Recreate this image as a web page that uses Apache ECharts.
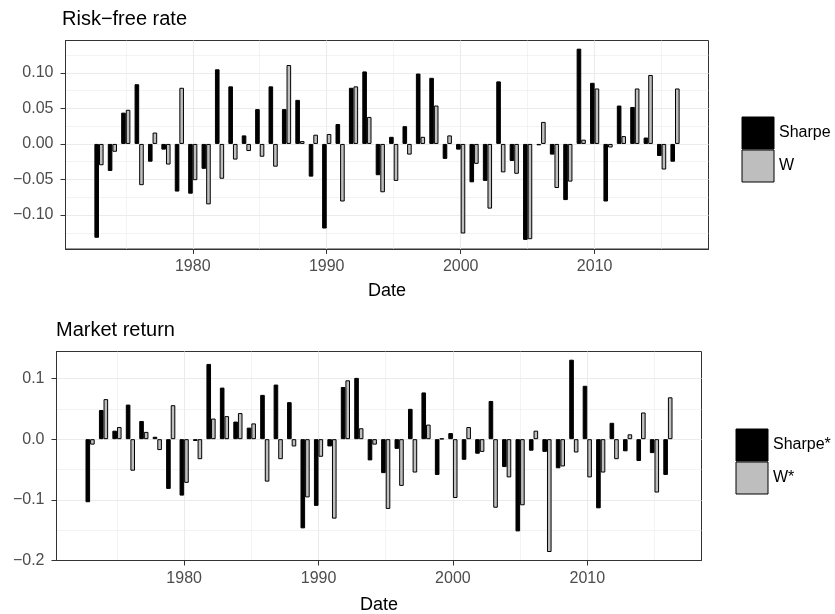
<!DOCTYPE html>
<html>
<head>
<meta charset="utf-8">
<script src="https://cdn.jsdelivr.net/npm/echarts@6/dist/echarts.min.js"></script>
<style>
  html, body { margin: 0; padding: 0; background: #fff; }
  #chart { width: 835px; height: 614px; }
</style>
</head>
<body>
<div id="chart"></div>
<script>
// Yearly observations, 1973-2016
const years = [1973, 1974, 1975, 1976, 1977, 1978, 1979, 1980, 1981, 1982,
               1983, 1984, 1985, 1986, 1987, 1988, 1989, 1990, 1991, 1992,
               1993, 1994, 1995, 1996, 1997, 1998, 1999, 2000, 2001, 2002,
               2003, 2004, 2005, 2006, 2007, 2008, 2009, 2010, 2011, 2012,
               2013, 2014, 2015, 2016];

// Risk-free rate panel
const rfSharpe = [-0.132, -0.038, 0.044, 0.084, -0.025, -0.008, -0.067, -0.070, -0.035, 0.105,
                  0.081, 0.012, 0.049, 0.081, 0.049, 0.062, -0.046, -0.119, 0.028, 0.079,
                  0.102, -0.044, 0.010, 0.025, 0.099, 0.093, -0.021, -0.008, -0.054, -0.052,
                  0.088, -0.024, -0.135, -0.002, -0.015, -0.079, 0.134, 0.086, -0.081, 0.054,
                  0.052, 0.009, -0.017, -0.025];
const rfW = [-0.030, -0.011, 0.048, -0.058, 0.016, -0.029, 0.079, -0.051, -0.085, -0.049,
             -0.022, -0.010, -0.018, -0.032, 0.111, 0.004, 0.013, 0.014, -0.081, 0.081,
             0.038, -0.068, -0.052, -0.015, 0.010, 0.054, 0.012, -0.126, -0.028, -0.091,
             -0.040, -0.042, -0.134, 0.031, -0.062, -0.053, 0.006, 0.078, -0.005, 0.011,
             0.078, 0.097, -0.036, 0.078];

// Market return panel
const mktSharpe = [-0.104, 0.048, 0.014, 0.057, 0.030, 0.004, -0.082, -0.093, -0.003, 0.124,
                   0.085, 0.029, 0.019, 0.073, 0.090, 0.061, -0.147, -0.110, -0.012, 0.086,
                   0.101, -0.035, -0.056, -0.016, 0.050, 0.077, -0.059, 0.010, -0.034, -0.024,
                   0.063, -0.046, -0.152, -0.019, -0.021, -0.048, 0.131, 0.088, -0.114, 0.027,
                   -0.020, -0.036, -0.023, -0.059];
const mktW = [-0.009, 0.066, 0.020, -0.052, 0.012, -0.018, 0.056, -0.072, -0.033, 0.034,
              0.038, 0.043, 0.026, -0.070, -0.033, -0.012, -0.096, -0.029, -0.131, 0.097,
              0.018, -0.009, -0.115, -0.077, -0.055, 0.024, 0.001, -0.097, 0.020, -0.021,
              -0.113, -0.063, -0.109, 0.014, -0.186, -0.045, -0.022, -0.063, -0.055, -0.033,
              0.008, 0.044, -0.088, 0.069];

// Axis breaks
const xMajorTicks = [1980, 1990, 2000, 2010];
const xMinorTicks = [1975, 1985, 1995, 2005, 2015];
const rfMajorTicks = [-0.10, -0.05, 0, 0.05, 0.10];
const rfMinorTicks = [-0.125, -0.075, -0.025, 0.025, 0.075, 0.125];
const mktMajorTicks = [-0.2, -0.1, 0, 0.1];
const mktMinorTicks = [-0.15, -0.05, 0.05];

const FONT = "'Liberation Sans', Arial, Helvetica, sans-serif";
const GRID_COLOR = '#ebebeb';
const INK = '#333333';

const pairs = vals => years.map((y, i) => [y, vals[i]]);
const signed = digits => v => (v < 0 ? '\u2212' : '') + Math.abs(v).toFixed(digits);

function mainX(gridIndex, nameGap) {
  return {
    type: 'value', gridIndex, min: 1970.5, max: 2018.5,
    name: 'Date', nameLocation: 'middle', nameGap,
    nameTextStyle: { fontFamily: FONT, fontSize: 18, color: '#000' },
    axisLine: { show: true, onZero: false, lineStyle: { color: INK, width: 1 } },
    axisTick: { show: true, length: 5, customValues: xMajorTicks, lineStyle: { color: INK, width: 1 } },
    axisLabel: { customValues: xMajorTicks, margin: 10, fontFamily: FONT, fontSize: 16, color: '#4d4d4d', formatter: v => String(v) },
    splitLine: { show: true, lineStyle: { color: GRID_COLOR, width: 1.1 } }
  };
}
function minorX(gridIndex) {
  return {
    type: 'value', gridIndex, min: 1970.5, max: 2018.5,
    axisLine: { show: false, onZero: false },
    axisTick: { show: false, customValues: xMinorTicks },
    axisLabel: { show: false, customValues: xMinorTicks },
    splitLine: { show: true, lineStyle: { color: GRID_COLOR, width: 0.6 } }
  };
}
function mainY(gridIndex, min, max, ticks, digits) {
  return {
    type: 'value', gridIndex, min, max, position: 'left',
    axisLine: { show: true, onZero: false, lineStyle: { color: INK, width: 1 } },
    axisTick: { show: true, length: 5, customValues: ticks, lineStyle: { color: INK, width: 1 } },
    axisLabel: { customValues: ticks, margin: 12, fontFamily: FONT, fontSize: 16, color: '#4d4d4d', formatter: signed(digits) },
    splitLine: { show: true, lineStyle: { color: GRID_COLOR, width: 1.1 } }
  };
}
function minorY(gridIndex, min, max, ticks) {
  return {
    type: 'value', gridIndex, min, max, position: 'left',
    axisLine: { show: false, onZero: false },
    axisTick: { show: false, customValues: ticks },
    axisLabel: { show: false, customValues: ticks },
    splitLine: { show: true, lineStyle: { color: GRID_COLOR, width: 0.6 } }
  };
}
function bars(name, vals, fill, xi, yi) {
  return {
    name, type: 'bar', xAxisIndex: xi, yAxisIndex: yi,
    data: pairs(vals), barWidth: 4.6, barGap: '0%', z: 3,
    itemStyle: { color: fill, borderColor: '#000', borderWidth: 1 }
  };
}
function legend(names, left, top) {
  return {
    data: names, orient: 'vertical', left, top, padding: 0,
    itemWidth: 32, itemHeight: 32, itemGap: 0, icon: 'rect', selectedMode: false,
    itemStyle: { borderColor: '#000', borderWidth: 1 },
    textStyle: { fontFamily: FONT, fontSize: 16, color: '#000' }
  };
}

const chart = echarts.init(document.getElementById('chart'), null, { renderer: 'canvas' });
chart.setOption({
  animation: false,
  backgroundColor: '#fff',
  title: [
    { text: 'Risk\u2212free rate', left: 62, top: 9, padding: 0,
      textStyle: { fontFamily: FONT, fontSize: 20, lineHeight: 20, fontWeight: 'normal', color: '#000' } },
    { text: 'Market return', left: 56, top: 320, padding: 0,
      textStyle: { fontFamily: FONT, fontSize: 20, lineHeight: 20, fontWeight: 'normal', color: '#000' } }
  ],
  legend: [
    legend(['Sharpe', 'W'], 741.5, 116.5),
    legend(['Sharpe*', 'W*'], 735.5, 428.5)
  ],
  grid: [
    { left: 65.5, top: 40.5, width: 643, height: 208.5, show: true, borderColor: INK, borderWidth: 1,
      backgroundColor: '#fff', outerBoundsMode: 'none' },
    { left: 56.5, top: 351.5, width: 645, height: 209, show: true, borderColor: INK, borderWidth: 1,
      backgroundColor: '#fff', outerBoundsMode: 'none' }
  ],
  xAxis: [mainX(0, 33), minorX(0), mainX(1, 36), minorX(1)],
  yAxis: [
    mainY(0, -0.1478, 0.1455, rfMajorTicks, 2),
    minorY(0, -0.1478, 0.1455, rfMinorTicks),
    mainY(1, -0.2, 0.1445, mktMajorTicks, 1),
    minorY(1, -0.2, 0.1445, mktMinorTicks)
  ],
  series: [
    bars('Sharpe', rfSharpe, '#000000', 0, 0),
    bars('W', rfW, '#bebebe', 0, 0),
    bars('Sharpe*', mktSharpe, '#000000', 2, 2),
    bars('W*', mktW, '#bebebe', 2, 2)
  ]
});
</script>
</body>
</html>
